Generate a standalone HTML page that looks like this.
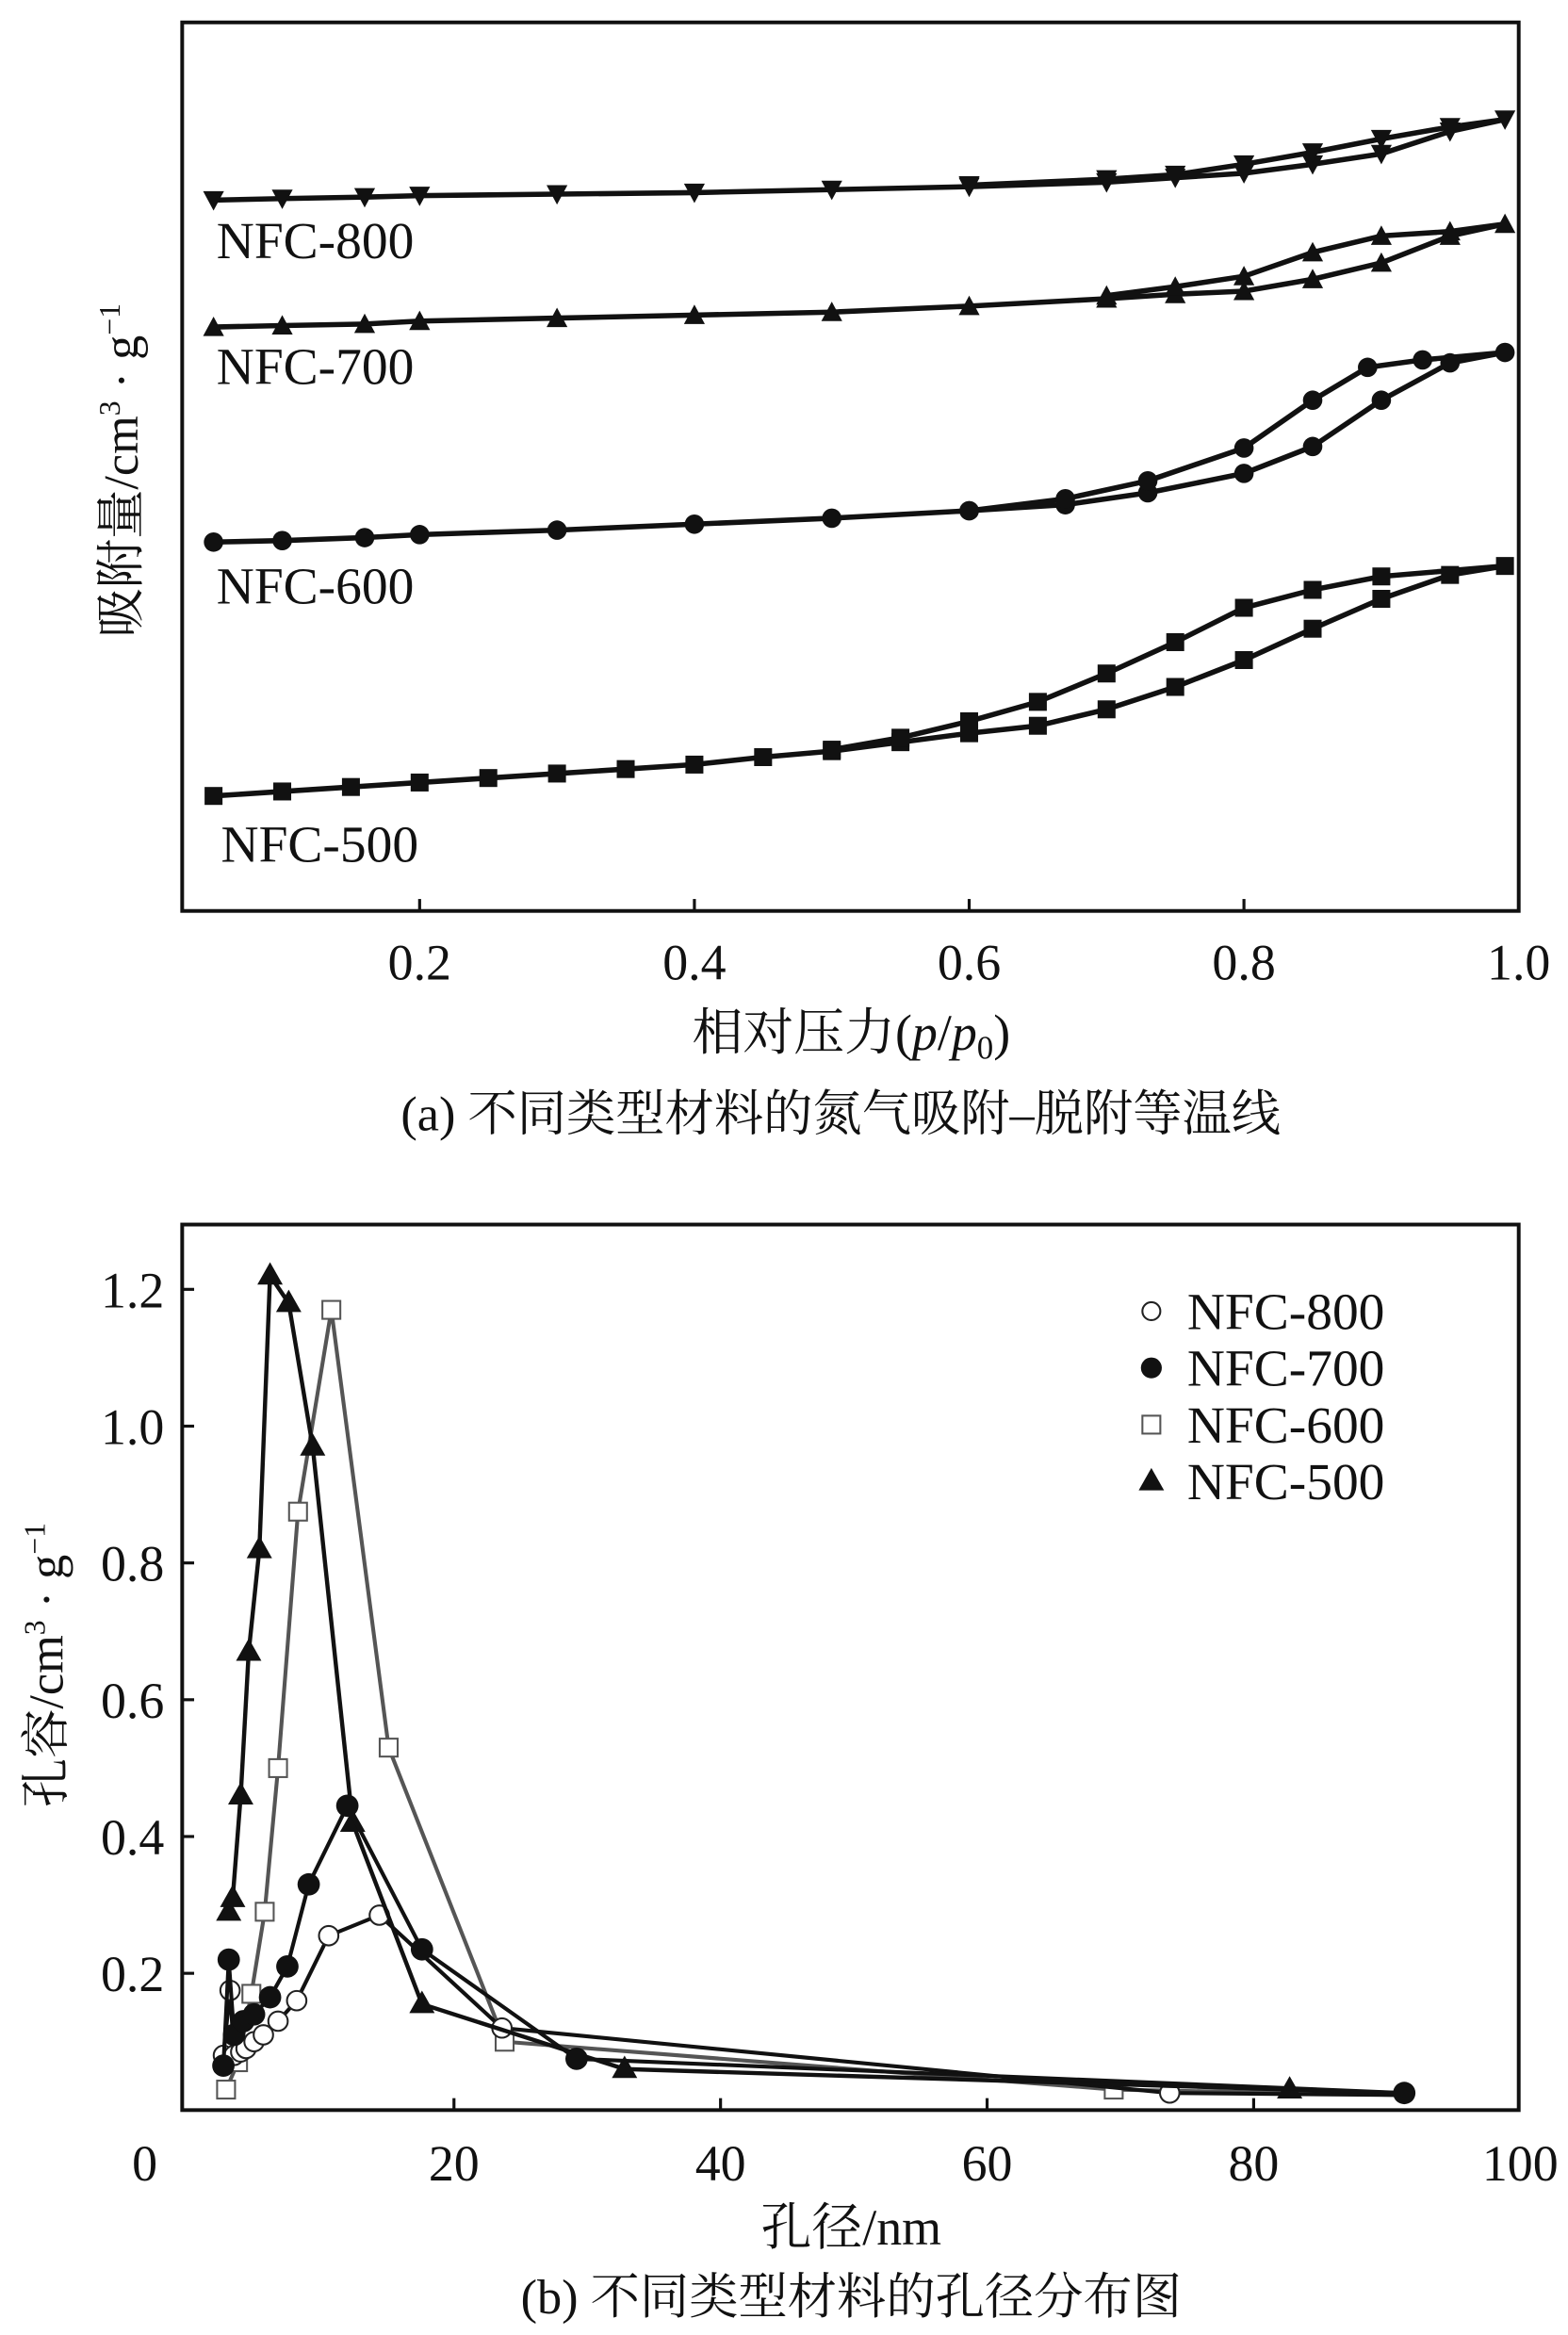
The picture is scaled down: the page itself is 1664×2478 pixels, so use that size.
<!DOCTYPE html>
<html><head><meta charset="utf-8">
<style>
html,body{margin:0;padding:0;background:#fff;}
svg{display:block;}
text{font-family:"Liberation Serif","Noto Serif CJK SC","Noto Sans CJK SC",serif;fill:#111;}
</style></head>
<body>
<svg id="fig" width="1664" height="2478" viewBox="0 0 1050 1563.6" preserveAspectRatio="none" xmlns="http://www.w3.org/2000/svg">
<g id="chartA"></g>
<g id="chartB"></g>
</svg>
<script>
// ---------- Chart (a) data ----------
const aXTicks = [0.2, 0.4, 0.6, 0.8, 1.0];
const aXTickLabels = ["0.2", "0.4", "0.6", "0.8", "1.0"];
const a800x = [0.05,0.1,0.16,0.2,0.3,0.4,0.5,0.6,0.7,0.75,0.8,0.85,0.9,0.95,0.99,0.95,0.9,0.85,0.8,0.75,0.7,0.6];
const a800y = [476,477,478,479,480,481,483,485,488,491,494,500,507,522,530,525,517,508,500,493,490,486];
const a700x = [0.05,0.1,0.16,0.2,0.3,0.4,0.5,0.6,0.7,0.75,0.8,0.85,0.9,0.95,0.99,0.95,0.9,0.85,0.8,0.75,0.7];
const a700y = [391,392,393,395,397,399,401,405,410,413,415,423,434,452,460,455,452,441,425,418,412];
const a600x = [0.05,0.1,0.16,0.2,0.3,0.4,0.5,0.6,0.67,0.73,0.8,0.85,0.9,0.95,0.99,0.93,0.89,0.85,0.8,0.73,0.67,0.6];
const a600y = [247,248,250,252,255,259,263,268,272,280,293,311,342,367,374,369,364,342,310,288,276,268];
const a500x = [0.05,0.1,0.15,0.2,0.25,0.3,0.35,0.4,0.45,0.5,0.55,0.6,0.65,0.7,0.75,0.8,0.85,0.9,0.95,0.99,0.9,0.85,0.8,0.75,0.7,0.65,0.6,0.55,0.5];
const a500y = [77,80,83,86,89,92,95,98,103,107,113,119,124,135,150,168,189,209,225,231,224,215,203,180,159,140,127,116,108];
// ---------- Chart (b) data ----------
const bXTicks = [20,40,60,80];
const bXTickLabels = ["0","20","40","60","80","100"];
const bXTickLabelVals = [-3.2,20,40,60,80,100];
const bYTicks = [0.2,0.4,0.6,0.8,1.0,1.2];
const bYTickLabels = ["0.2","0.4","0.6","0.8","1.0","1.2"];
const b800x = [2.7,3.2,3.5,4.0,4.4,5.0,5.7,6.8,8.2,10.6,14.4,23.6,73.7,91];
const b800y = [0.08,0.175,0.08,0.085,0.09,0.10,0.11,0.13,0.16,0.255,0.285,0.12,0.025,0.022];
const b700x = [2.7,3.1,3.5,4.2,5.0,6.2,7.5,9.1,12.0,17.6,29.2,91.3];
const b700y = [0.065,0.22,0.11,0.13,0.14,0.165,0.21,0.33,0.445,0.235,0.075,0.025];
const b600x = [2.9,3.8,4.8,5.8,6.8,8.3,10.8,15.1,23.8,69.5,91];
const b600y = [0.03,0.07,0.17,0.29,0.5,0.875,1.17,0.53,0.10,0.03,0.022];
const b500x = [3.1,3.4,4.0,4.6,5.4,6.2,7.6,9.4,12.4,17.6,32.8,82.7,91];
const b500y = [0.29,0.31,0.46,0.67,0.82,1.22,1.18,0.97,0.42,0.155,0.06,0.03,0.025];

const NS = "http://www.w3.org/2000/svg";
function mk(parent, tag, attrs){const e=document.createElementNS(NS,tag);for(const k in attrs)e.setAttribute(k,attrs[k]);parent.appendChild(e);return e;}

// ---------- Chart (a) ----------
const A = document.getElementById('chartA');
const aL=122,aR=1017,aT=15,aB=610;
const ax = v => 97 + v*920;
const ay = v => aB - v;
function markerA(g, type, x, y){
  let m;
  if(type==='sq'){ m=mk(g,'rect',{x:x-6,y:y-6,width:12,height:12,fill:'#111'}); }
  else if(type==='ci'){ m=mk(g,'circle',{cx:x,cy:y,r:6.5,fill:'#111'}); }
  else if(type==='up'){ m=mk(g,'polygon',{points:`${x},${y-7} ${x-7},${y+6} ${x+7},${y+6}`,fill:'#111'}); }
  else { m=mk(g,'polygon',{points:`${x},${y+7} ${x-7},${y-6} ${x+7},${y-6}`,fill:'#111'}); }
  return m;
}
function seriesA(name, xs, ys, type){
  const g=mk(A,'g',{});
  
  
  const pts=xs.map((v,i)=>ax(v)+','+ay(ys[i])).join(' ');
  const pl=mk(g,'polyline',{points:pts,fill:'none',stroke:'#111','stroke-width':3.5,'stroke-linejoin':'round'});
  
  
  xs.forEach((v,i)=>{
    const m=markerA(g,type,ax(v),ay(ys[i]));
    
    
  });
}
seriesA('nfc-800-isotherm', a800x, a800y, 'dn');
seriesA('nfc-700-isotherm', a700x, a700y, 'up');
seriesA('nfc-600-isotherm', a600x, a600y, 'ci');
seriesA('nfc-500-isotherm', a500x, a500y, 'sq');
{
const fr=mk(A,'rect',{x:aL,y:aT,width:aR-aL,height:aB-aT,fill:'none',stroke:'#111','stroke-width':2.5});


aXTicks.forEach((v,i)=>{
  const t=mk(A,'line',{x1:ax(v),x2:ax(v),y1:aB,y2:aB-8,stroke:'#111','stroke-width':2});
  
  
  const tl=mk(A,'text',{x:ax(v),y:aB+46,'text-anchor':'middle','font-size':34});
  tl.textContent=aXTickLabels[i];
  
  
});
const labs=[['NFC-800',145,173],['NFC-700',145,257],['NFC-600',145,404],['NFC-500',148,577]];
labs.forEach(l=>{
  const t=mk(A,'text',{x:l[1],y:l[2],'font-size':35});
  t.textContent=l[0];
  
  
});
}
// ---------- Chart (b) ----------
const B = document.getElementById('chartB');
const bL=122,bR=1017,bT=820,bB=1413;
const bx = v => 125.5 + v*8.925;
const by = v => bB - v*458;
function seriesB(name, xs, ys, type, color, lw, markEnd){
  const g=mk(B,'g',{});
  
  
  const pts=xs.map((v,i)=>bx(v)+','+by(ys[i])).join(' ');
  const pl=mk(g,'polyline',{points:pts,fill:'none',stroke:color,'stroke-width':lw,'stroke-linejoin':'round'});
  
  
  xs.forEach((v,i)=>{
    if(!markEnd && i===xs.length-1) return;
    const x=bx(v),y=by(ys[i]);let m;
    if(type==='oc') m=mk(g,'circle',{cx:x,cy:y,r:6.5,fill:'#fff',stroke:'#222','stroke-width':1.3});
    else if(type==='fc') m=mk(g,'circle',{cx:x,cy:y,r:7.5,fill:'#111'});
    else if(type==='os') m=mk(g,'rect',{x:x-6,y:y-6,width:12,height:12,fill:'#fff',stroke:'#555','stroke-width':1.3});
    else m=mk(g,'polygon',{points:`${x},${y-9} ${x-8.5},${y+6} ${x+8.5},${y+6}`,fill:'#111'});
    
    
  });
}
seriesB('nfc-600-psd', b600x, b600y, 'os', '#555', 2.6, false);
seriesB('nfc-800-psd', b800x, b800y, 'oc', '#111', 2.6, false);
seriesB('nfc-500-psd', b500x, b500y, 'tr', '#111', 2.8, false);
seriesB('nfc-700-psd', b700x, b700y, 'fc', '#111', 2.6, true);
{
const fr=mk(B,'rect',{x:bL,y:bT,width:bR-bL,height:bB-bT,fill:'none',stroke:'#111','stroke-width':2.5});


bXTicks.forEach(v=>{
  const t=mk(B,'line',{x1:bx(v),x2:bx(v),y1:bB,y2:bB-8,stroke:'#111','stroke-width':2});
  
  
});
bXTickLabels.forEach((s,i)=>{
  const tl=mk(B,'text',{x:bx(bXTickLabelVals[i]),y:bB+47,'text-anchor':'middle','font-size':34});
  tl.textContent=s;
  
  
});
bYTicks.forEach((v,i)=>{
  const t=mk(B,'line',{x1:bL,x2:bL+8,y1:by(v),y2:by(v),stroke:'#111','stroke-width':2});
  
  
  const tl=mk(B,'text',{x:bL-12,y:by(v)+12,'text-anchor':'end','font-size':34});
  tl.textContent=bYTickLabels[i];
  
  
});
}
</script>
<script>
// static text elements
(function(){
const S=document.getElementById('fig');
const NS="http://www.w3.org/2000/svg";
function txt(html,attrs,name){const t=document.createElementNS(NS,'text');for(const k in attrs)t.setAttribute(k,attrs[k]);t.innerHTML=html;S.appendChild(t);


return t;}
txt('相对压力(<tspan font-style="italic">p</tspan>/<tspan font-style="italic">p</tspan><tspan font-size="22" dy="6">0</tspan><tspan dy="-6">)</tspan>',{x:570,y:703,'text-anchor':'middle','font-size':34},'x-axis-title-a');
txt('(a) 不同类型材料的氮气吸附–脱附等温线',{x:563,y:757,'text-anchor':'middle','font-size':33},'caption-a');
txt('吸附量/cm<tspan font-size="20" dy="-12">3</tspan><tspan dy="12"> · g</tspan><tspan font-size="20" dy="-12">−1</tspan>',{x:0,y:0,'text-anchor':'middle','font-size':33,transform:'translate(92,315) rotate(-90)'},'y-axis-title-a');
txt('孔径/nm',{x:570,y:1503,'text-anchor':'middle','font-size':34},'x-axis-title-b');
txt('(b) 不同类型材料的孔径分布图',{x:570,y:1549,'text-anchor':'middle','font-size':33},'caption-b');
txt('孔容/cm<tspan font-size="20" dy="-12">3</tspan><tspan dy="12"> · g</tspan><tspan font-size="20" dy="-12">−1</tspan>',{x:0,y:0,'text-anchor':'middle','font-size':33,transform:'translate(42,1115) rotate(-90)'},'y-axis-title-b');
const leg=[['NFC-800','oc',878],['NFC-700','fc',916],['NFC-600','os',954],['NFC-500','tr',992]];
const lg=document.createElementNS(NS,'g');S.appendChild(lg);


leg.forEach(l=>{
  const x=771,y=l[2];let m=document.createElementNS(NS,l[1]==='tr'?'polygon':(l[1]==='os'?'rect':'circle'));
  if(l[1]==='oc'){m.setAttribute('cx',x);m.setAttribute('cy',y);m.setAttribute('r',6);m.setAttribute('fill','#fff');m.setAttribute('stroke','#222');m.setAttribute('stroke-width',1.3);}
  else if(l[1]==='fc'){m.setAttribute('cx',x);m.setAttribute('cy',y);m.setAttribute('r',7);m.setAttribute('fill','#111');}
  else if(l[1]==='os'){m.setAttribute('x',x-6);m.setAttribute('y',y-6);m.setAttribute('width',12);m.setAttribute('height',12);m.setAttribute('fill','#fff');m.setAttribute('stroke','#555');m.setAttribute('stroke-width',1.3);}
  else {m.setAttribute('points',`${x},${y-9} ${x-8.5},${y+6} ${x+8.5},${y+6}`);m.setAttribute('fill','#111');}
  lg.appendChild(m);
  
  
  const t=document.createElementNS(NS,'text');t.setAttribute('x',795);t.setAttribute('y',y+12);t.setAttribute('font-size',35);t.textContent=l[0];lg.appendChild(t);
  
  
});
})();
</script>
</body></html>
